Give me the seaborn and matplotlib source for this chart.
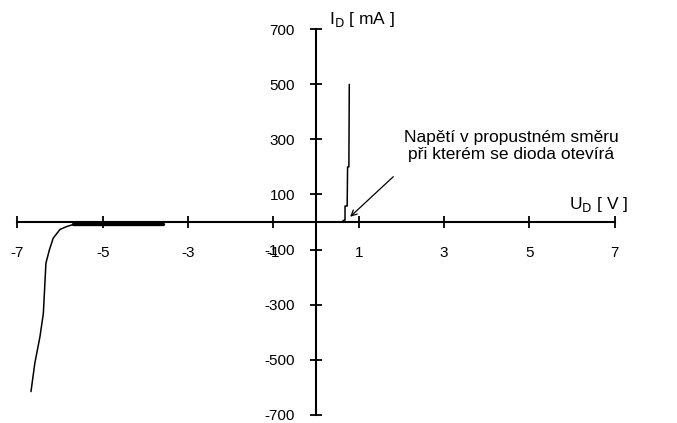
import matplotlib
matplotlib.use("Agg")
import matplotlib.pyplot as plt
import seaborn as sns
import pandas as pd

# Diode V-A characteristic
fwd_u = [0.60, 0.66, 0.68, 0.68, 0.73, 0.74, 0.77, 0.78]
fwd_i = [0, 7, 7, 58, 58, 200, 200, 500]

rev_u = [-5.69, -5.85, -6.00, -6.16, -6.25, -6.33, -6.39, -6.47, -6.59, -6.68]
rev_i = [-9, -17, -27, -59, -102, -150, -332, -417, -513, -616]

flat_u = [-5.69, -3.58]
flat_i = [-9, -9]

x_ticks = [-7, -5, -3, -1, 1, 3, 5, 7]
y_ticks = [-700, -500, -300, -100, 100, 300, 500, 700]

note_text = "Napětí v propustném směru\npři kterém se dioda otevírá"

sns.set_style("white")
plt.rcParams['font.family'] = ['Liberation Sans', 'DejaVu Sans']
plt.rcParams['axes.unicode_minus'] = False
plt.rcParams['text.color'] = 'black'

fig = plt.figure(figsize=(6.77, 4.23), dpi=100)
ax = fig.add_axes([0, 0, 1, 1])

fwd = pd.DataFrame({'U': fwd_u, 'I': fwd_i})
rev = pd.DataFrame({'U': rev_u, 'I': rev_i})
flat = pd.DataFrame({'U': flat_u, 'I': flat_i})

sns.lineplot(data=fwd, x='U', y='I', sort=False, estimator=None, color='black', lw=1.1, ax=ax)
sns.lineplot(data=rev, x='U', y='I', sort=False, estimator=None, color='black', lw=1.1, ax=ax)
sns.lineplot(data=flat, x='U', y='I', sort=False, estimator=None, color='black', lw=2.4, ax=ax)

ax.set_xlim(-7.406, 8.46)
ax.set_ylim(-730.1, 806.4)
ax.set_xlabel('')
ax.set_ylabel('')

# axes crossing at origin
for side in ['top', 'right']:
    ax.spines[side].set_visible(False)
ax.spines['left'].set_position(('data', 0))
ax.spines['bottom'].set_position(('data', 0))
ax.spines['left'].set_bounds(-700, 700)
ax.spines['bottom'].set_bounds(-7, 7)
for side in ['left', 'bottom']:
    ax.spines[side].set_linewidth(1.5)
    ax.spines[side].set_color('black')

ax.set_xticks(x_ticks)
ax.set_xticklabels([str(v) for v in x_ticks])
ax.set_yticks(y_ticks)
ax.set_yticklabels([str(v) for v in y_ticks])
ax.tick_params(axis='both', bottom=True, left=True, direction='inout', length=9, width=1.3,
               colors='black', labelsize=11)
ax.tick_params(axis='x', pad=12.8)
ax.tick_params(axis='y', pad=10.6)

ax.text(1.07, 737, 'I$_\\mathrm{D}$ [ mA ]', ha='center', va='center', fontsize=12.5, color='black')
ax.text(6.61, 65, 'U$_\\mathrm{D}$ [ V ]', ha='center', va='center', fontsize=12.5, color='black')

ax.annotate(note_text, xy=(0.80, 19), xytext=(4.57, 276), color='black',
            ha='center', va='center', fontsize=12.5, multialignment='center')
ax.annotate('', xy=(0.80, 19), xytext=(1.81, 164.5),
            arrowprops=dict(arrowstyle='->', color='black', lw=0.9, shrinkA=0, shrinkB=0))

fig.savefig('out.png', dpi=100)
